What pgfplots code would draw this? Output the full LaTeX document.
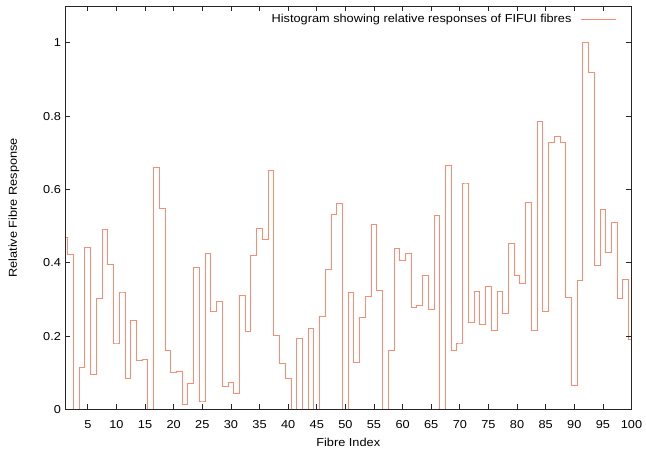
\documentclass[border=0pt]{standalone}
\usepackage{fontspec}
\setmainfont{Liberation Sans}[FakeStretch=1.11]
\usepackage{pgfplots}
\pgfplotsset{compat=1.18}
\definecolor{fibre}{RGB}{250,140,115}

\pgfplotstableread{
idx resp
1 0.468
2 0.423
3 0
4 0.116
5 0.441
6 0.095
7 0.304
8 0.491
9 0.396
10 0.179
11 0.318
12 0.086
13 0.244
14 0.135
15 0.138
16 0
17 0.659
18 0.549
19 0.161
20 0.101
21 0.105
22 0.015
23 0.072
24 0.388
25 0.021
26 0.425
27 0.268
28 0.296
29 0.064
30 0.075
31 0.043
32 0.312
33 0.213
34 0.420
35 0.495
36 0.464
37 0.653
38 0.203
39 0.125
40 0.086
41 0
42 0.193
43 0
44 0.222
45 0
46 0.255
47 0.382
48 0.533
49 0.561
50 0
51 0.320
52 0.129
53 0.250
54 0.309
55 0.504
56 0.325
57 0
58 0.160
59 0.440
60 0.407
61 0.426
62 0.279
63 0.285
64 0.365
65 0.273
66 0.530
67 0
68 0.665
69 0.161
70 0.179
71 0.615
72 0.237
73 0.321
74 0.233
75 0.335
76 0.217
77 0.322
78 0.262
79 0.452
80 0.365
81 0.343
82 0.564
83 0.215
84 0.785
85 0.268
86 0.729
87 0.744
88 0.727
89 0.306
90 0.065
91 0.351
92 1.000
93 0.920
94 0.392
95 0.545
96 0.429
97 0.509
98 0.303
99 0.355
100 0.191
}\fibres

\begin{document}
\fontsize{11.5}{13}\selectfont
\begin{tikzpicture}
\begin{axis}[
  name=ax,
  scale only axis,
  width=567pt, height=404pt,
  xmin=1, xmax=100, ymin=0, ymax=1.1,
  xtick={5,10,...,100},
  ytick={0,0.2,0.4,0.6,0.8,1},
  yticklabels={0,0.2,0.4,0.6,0.8,1},
  tick align=inside,
  major tick length=5.5pt,
  minor tick num=0,
  axis on top,
  axis line style={line width=0.9pt, black!85},
  every tick/.style={black!85, line width=0.8pt},
  tick label style={font=\fontsize{11.5}{13}\selectfont},
  /pgf/number format/assume math mode=true,
  xticklabel style={yshift=-7pt},
  xlabel={Fibre Index},
  ylabel={Relative Fibre Response},
  label style={font=\fontsize{11.5}{13}\selectfont},
  xlabel style={at={(axis description cs:0.5,0)}, anchor=north, inner sep=0pt, yshift=-28pt},
  ylabel style={at={(axis description cs:0,0.5)}, anchor=south, inner sep=0pt, yshift=45.5pt},
  legend plot pos=right,
  legend style={draw=none, fill=none, at={(axis description cs:1,1)}, anchor=north east,
    xshift=-15pt, yshift=-8pt, inner sep=0pt, row sep=0pt, column sep=9pt,
    nodes={inner sep=0pt}, font=\fontsize{11.5}{13}\selectfont},
  legend image code/.code={\draw[#1, fibre, line width=0.9pt] (0pt,0pt) -- (35pt,0pt);},
]
\addplot[const plot mark mid, color=fibre, line width=1pt] table[x=idx, y=resp] {\fibres};
\addlegendentry{Histogram showing relative responses of FIFUI fibres}
\end{axis}
\path[use as bounding box] (ax.south west) ++(-65pt,-41pt) rectangle ([xshift=14pt,yshift=6pt]ax.north east);
\end{tikzpicture}
\end{document}
